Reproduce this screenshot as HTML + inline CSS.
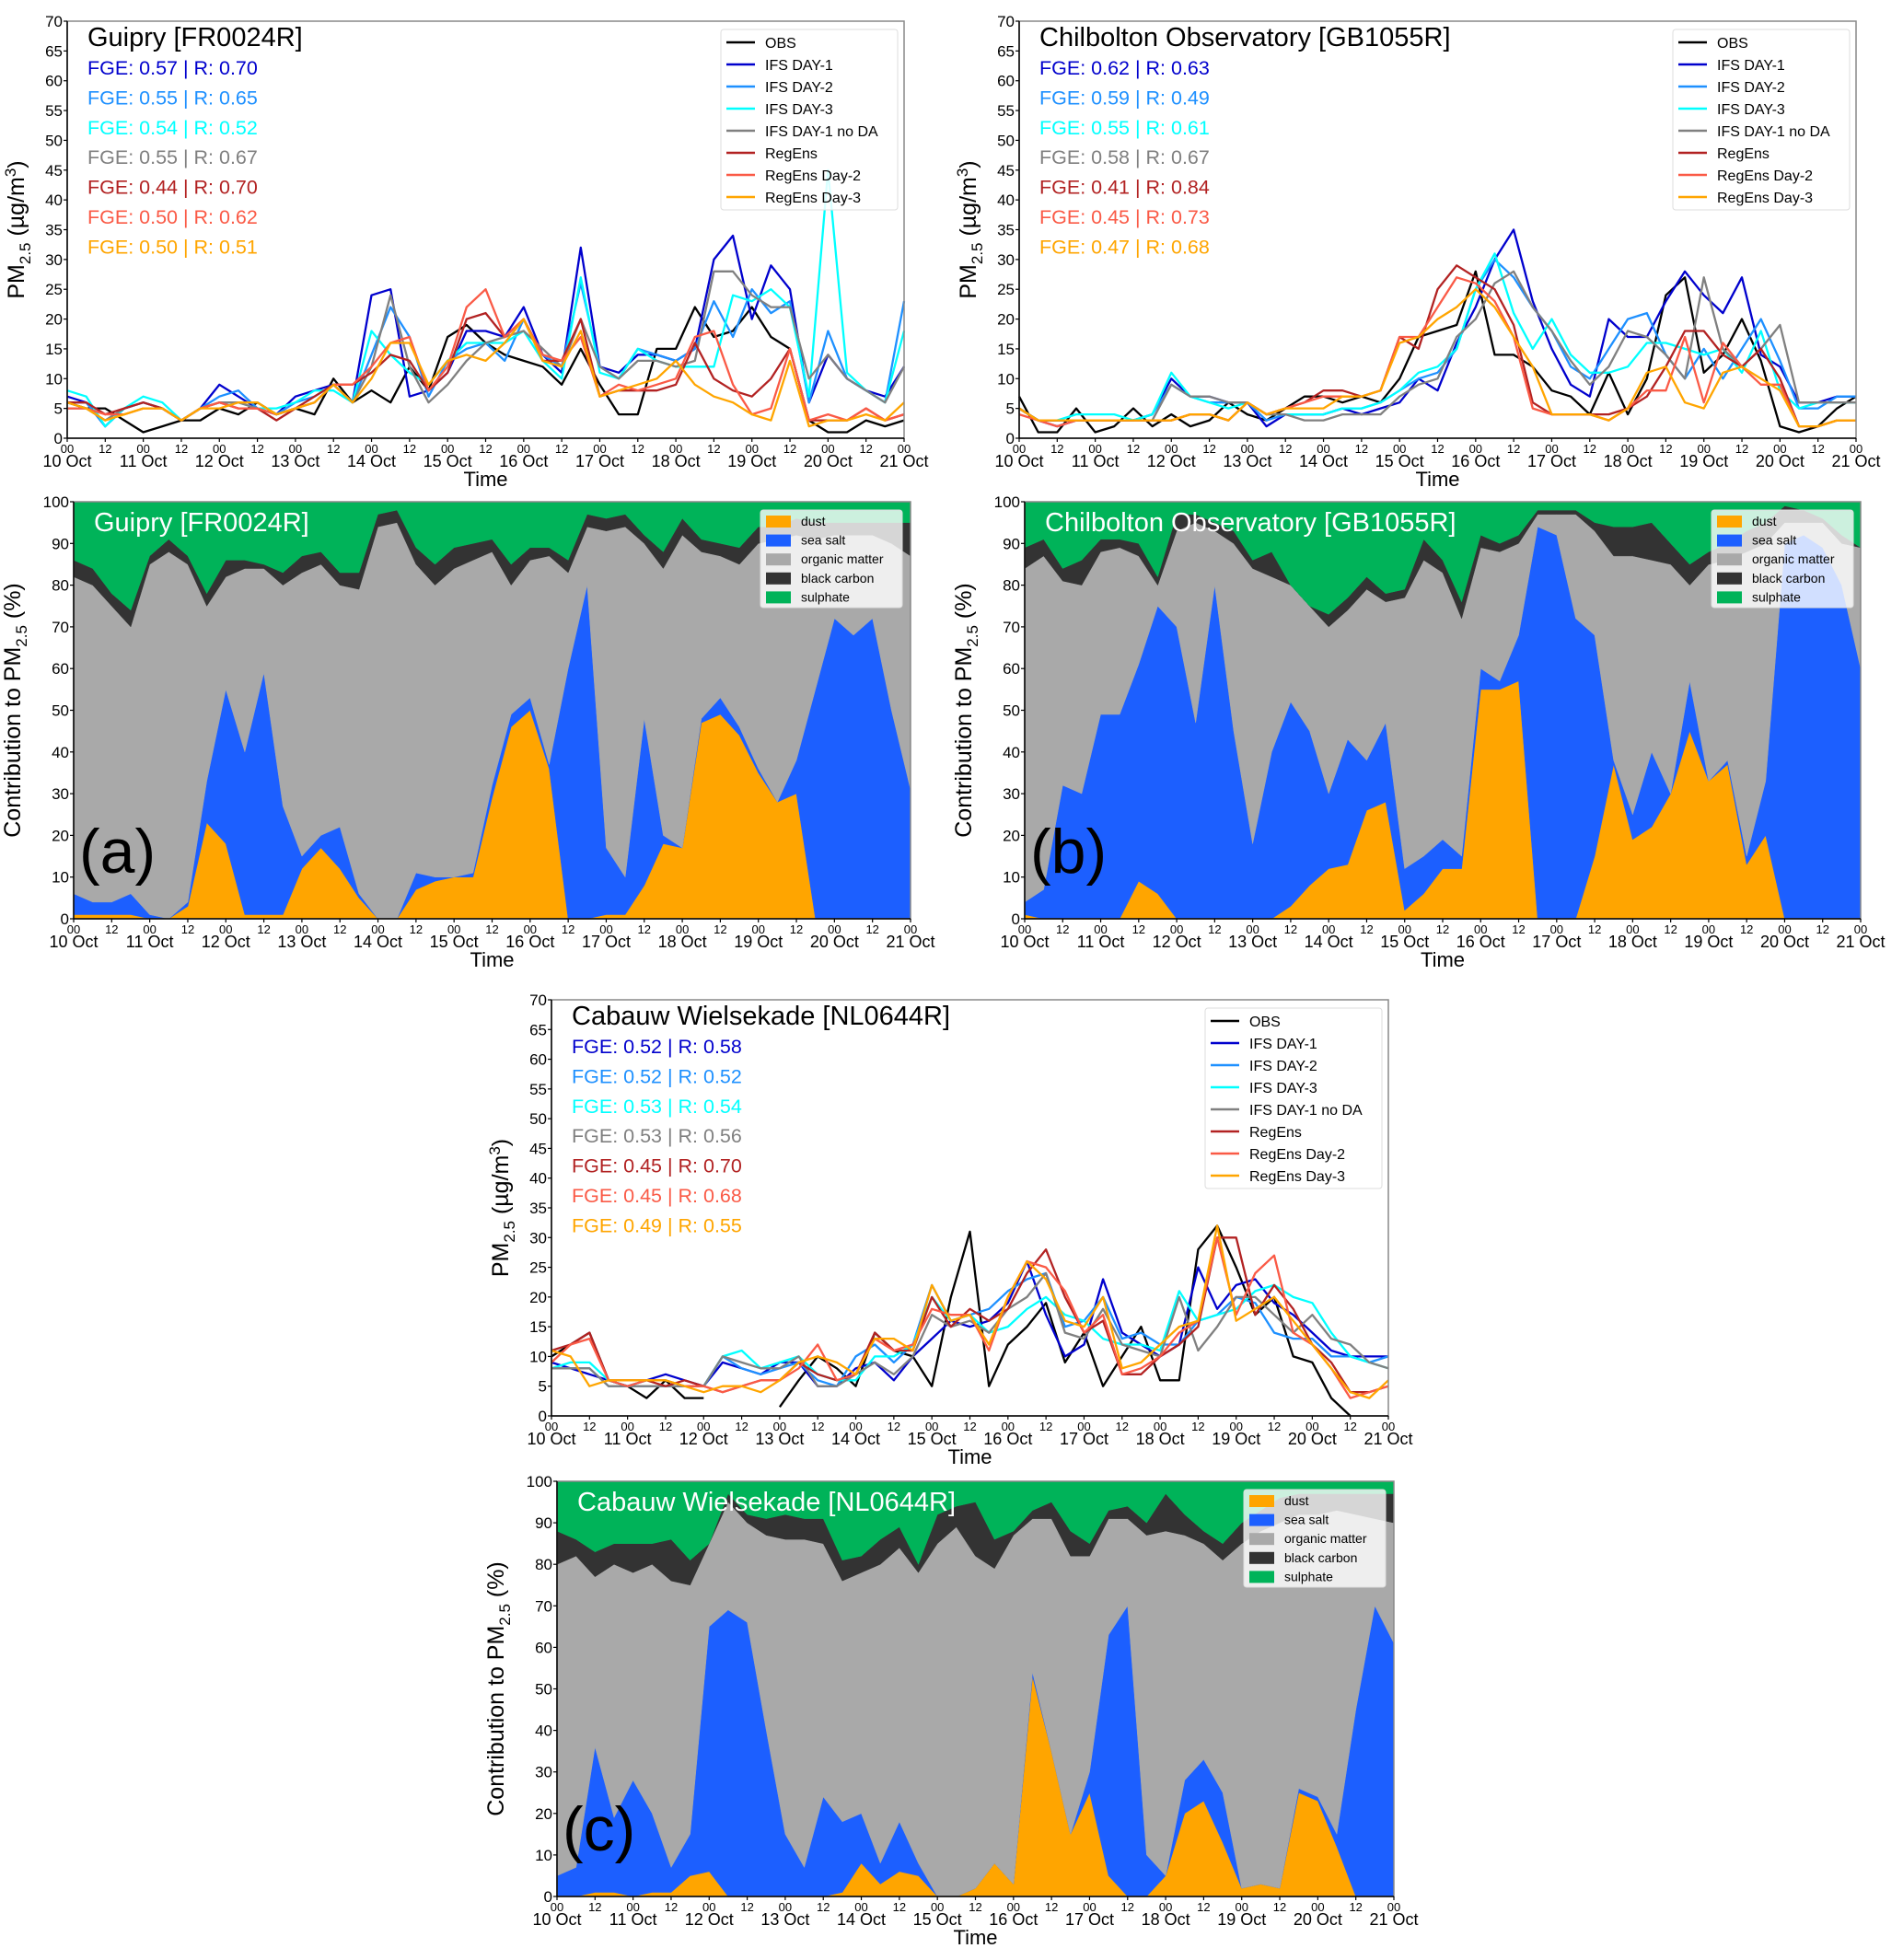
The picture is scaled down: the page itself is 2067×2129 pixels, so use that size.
<!DOCTYPE html>
<html><head><meta charset="utf-8">
<style>
html,body{margin:0;padding:0;background:#fff;}
svg{display:block;font-family:"Liberation Sans","DejaVu Sans",sans-serif;}
</style></head>
<body>
<svg id="fig" width="2067" height="2129" viewBox="0 0 2067 2129" xmlns="http://www.w3.org/2000/svg"></svg>
<script>
// ---------- time axis (6-hourly points, 10 Oct 00 .. 21 Oct 00) ----------
const nPts = 45;
const dayLabels = ["10 Oct","11 Oct","12 Oct","13 Oct","14 Oct","15 Oct","16 Oct","17 Oct","18 Oct","19 Oct","20 Oct","21 Oct"];
const lineYTicks = [0,5,10,15,20,25,30,35,40,45,50,55,60,65,70];
const barYTicks = [0,10,20,30,40,50,60,70,80,90,100];
const seriesNames = ["OBS","IFS DAY-1","IFS DAY-2","IFS DAY-3","IFS DAY-1 no DA","RegEns","RegEns Day-2","RegEns Day-3"];
const seriesColors = ["#000000","#0000cd","#1e90ff","#00ffff","#808080","#b22222","#fa5a46","#ffa500"];
const compNames = ["dust","sea salt","organic matter","black carbon","sulphate"];
const compColors = ["#ffa500","#1c5fff","#a9a9a9","#333333","#00b359"];

// ---------- panel (a) Guipry ----------
const obsA   = [6,5,5,3, 1,2,3,3, 5,4,6,4, 5,4,10,6, 8,6,12,8, 17,19,16,14, 13,12,9,15, 9,4,4,15, 15,22,17,18, 22,17,15,3, 1,1,3,2, 3];
const ifs1A  = [7,6,2,5, 6,5,3,5, 9,7,5,4, 7,8,9,6, 24,25,7,8, 11,18,18,17, 22,14,11,32, 12,11,14,14, 13,15,30,34, 20,29,25,6, 14,10,8,7, 12];
const ifs2A  = [6,6,2,5, 6,5,3,5, 7,8,5,4, 6,7,9,6, 14,22,17,7, 13,15,16,13, 20,14,12,26, 12,10,15,14, 13,15,23,17, 25,21,23,6, 18,10,8,6, 23];
const ifs3A  = [8,7,2,5, 7,6,3,5, 6,6,5,5, 6,8,8,6, 18,14,11,9, 13,16,16,16, 18,13,10,27, 11,10,15,13, 12,12,12,24, 23,25,22,7, 45,11,8,6, 18];
const nodaA  = [5,5,3,5, 6,5,3,5, 6,6,5,4, 5,6,9,6, 12,24,12,6, 9,13,16,17, 18,15,12,20, 12,10,13,13, 12,13,28,28, 24,22,22,10, 14,10,8,6, 12];
const regA   = [6,6,4,5, 6,5,3,5, 6,5,5,3, 5,7,9,9, 11,14,13,8, 11,20,21,17, 20,13,13,20, 7,8,8,8, 9,16,10,8, 7,10,15,3, 3,3,5,3, 4];
const reg2A  = [5,5,4,4, 5,5,3,5, 6,5,5,4, 5,6,9,9, 12,16,17,8, 12,22,25,17, 20,14,13,17, 7,9,8,9, 10,17,18,9, 4,5,15,3, 4,3,5,3, 4];
const reg3A  = [6,5,3,4, 5,5,3,5, 5,6,6,4, 5,6,9,6, 10,16,16,9, 13,14,13,16, 20,13,12,18, 7,8,9,10, 13,9,7,6, 4,3,13,2, 3,3,4,3, 6];
const statsA = ["FGE: 0.57 | R: 0.70","FGE: 0.55 | R: 0.65","FGE: 0.54 | R: 0.52","FGE: 0.55 | R: 0.67","FGE: 0.44 | R: 0.70","FGE: 0.50 | R: 0.62","FGE: 0.50 | R: 0.51"];
const dustTopA = [1,1,1,1, 0,0,3,23, 18,1,1,1, 12,17,12,5, 0,0,7,9, 10,10,29,46, 50,36,0,0, 1,1,8,18, 17,47,49,44, 35,28,30,0, 0,0,0,0, 0];
const saltTopA = [6,4,4,6, 1,0,4,33, 55,40,59,27, 15,20,22,6, 0,0,11,10, 10,11,32,49, 53,37,60,80, 17,10,48,20, 17,48,53,46, 36,28,38,55, 72,68,72,50, 31];
const orgTopA  = [82,80,75,70, 85,88,85,75, 82,84,84,80, 83,85,80,79, 94,95,85,80, 84,86,88,80, 86,87,83,94, 93,94,90,84, 92,88,87,85, 90,91,92,91, 92,92,92,90, 87];
const bcTopA   = [86,84,78,74, 87,91,87,78, 86,86,85,83, 87,88,83,83, 97,98,89,85, 89,90,91,85, 89,89,86,97, 96,97,92,88, 96,91,90,89, 94,94,96,95, 95,95,95,95, 95];

// ---------- panel (b) Chilbolton ----------
const obsB   = [7,1,1,5, 1,2,5,2, 4,2,3,6, 4,3,5,7, 7,6,7,6, 10,17,18,19, 28,14,14,12, 8,7,4,11, 4,10,24,27, 11,14,20,13, 2,1,2,5, 7];
const ifs1B  = [5,3,2,3, 3,3,3,4, 10,7,7,6, 6,2,4,4, 4,5,4,5, 6,10,8,16, 22,30,35,23, 15,9,7,20, 17,17,23,28, 24,21,27,14, 12,6,6,7, 7];
const ifs2B  = [5,3,3,3, 3,3,3,4, 9,7,6,6, 6,3,4,4, 4,5,5,6, 8,10,11,15, 25,30,27,22, 18,12,10,15, 20,21,14,10, 15,10,15,20, 13,5,5,7, 7];
const ifs3B  = [5,3,3,4, 4,4,3,4, 11,7,6,5, 6,4,4,4, 4,5,5,6, 8,11,12,15, 25,31,21,15, 20,14,11,11, 12,16,16,15, 14,15,11,18, 8,5,6,6, 6];
const nodaB  = [5,3,3,3, 3,3,3,3, 9,7,7,6, 6,4,4,3, 3,4,4,4, 7,9,10,17, 20,26,28,22, 18,13,9,12, 18,17,14,10, 27,15,12,15, 19,6,6,6, 6];
const regB   = [5,3,3,3, 3,3,3,3, 3,4,4,3, 6,4,5,6, 8,8,7,8, 17,15,25,29, 27,25,19,6, 4,4,4,4, 5,7,12,18, 18,14,12,15, 10,2,2,3, 3];
const reg2B  = [4,3,2,3, 3,3,3,3, 3,4,4,3, 6,4,5,6, 7,7,7,8, 17,17,22,27, 26,23,17,5, 4,4,4,3, 5,8,8,17, 6,16,12,9, 9,2,2,3, 3];
const reg3B  = [5,3,3,3, 3,3,3,3, 3,4,4,3, 6,4,5,5, 5,7,7,8, 16,17,20,22, 25,22,17,12, 4,4,4,3, 5,11,12,6, 5,11,12,10, 8,2,2,3, 3];
const statsB = ["FGE: 0.62 | R: 0.63","FGE: 0.59 | R: 0.49","FGE: 0.55 | R: 0.61","FGE: 0.58 | R: 0.67","FGE: 0.41 | R: 0.84","FGE: 0.45 | R: 0.73","FGE: 0.47 | R: 0.68"];
const dustTopB = [1,0,0,0, 0,0,9,6, 0,0,0,0, 0,0,3,8, 12,13,26,28, 2,6,12,12, 55,55,57,0, 0,0,15,37, 19,22,30,45, 33,37,13,20, 0,0,0,0, 0];
const saltTopB = [4,7,32,30, 49,49,61,75, 70,47,80,45, 18,40,52,45, 30,43,38,47, 12,15,19,15, 60,57,68,94, 92,72,68,38, 25,40,25,57, 33,38,15,33, 90,92,89,80, 60];
const orgTopB  = [84,87,81,80, 88,89,87,80, 93,95,93,90, 84,82,80,75, 70,74,79,76, 77,86,83,72, 89,88,90,97, 97,97,93,87, 87,86,85,80, 85,86,88,90, 95,95,95,90, 89];
const bcTopB   = [89,91,84,86, 91,91,90,82, 97,97,95,93, 86,88,78,73, 73,77,82,78, 79,91,86,76, 92,90,92,98, 98,98,95,94, 94,95,90,85, 88,90,93,95, 99,98,96,92, 89];

// ---------- panel (c) Cabauw ----------
const obsC   = [10,12,14,6, 5,3,6,3, 3,null,3,null, 1.5,6,10,8, 5,14,11,10, 5,20,31,5, 12,15,19,9, 14,5,10,15, 6,6,28,32, 25,17,20,10, 9,3,0,null, 2];
const ifs1C  = [9,8,7,6, 5,6,7,6, 5,9,8,7, 9,9,5,5, 8,9,6,10, 13,16,15,16, 19,26,17,10, 12,23,14,12, 10,12,25,18, 22,23,19,17, 14,11,10,10, 10];
const ifs2C  = [8,8,8,5, 5,5,5,5, 5,10,8,7, 8,9,6,5, 10,12,9,12, 22,16,17,18, 21,23,24,15, 16,20,13,14, 12,12,16,17, 20,19,14,13, 13,10,10,9, 10];
const ifs3C  = [8,9,9,6, 5,6,6,5, 5,10,11,8, 9,10,7,6, 6,10,10,12, 20,16,17,14, 15,18,20,17, 16,13,12,12, 11,21,16,17, 18,21,22,20, 19,14,10,9, 8];
const nodaC  = [8,8,8,5, 5,5,5,5, 5,10,9,8, 8,10,5,5, 7,9,7,10, 17,15,16,14, 18,20,24,14, 13,18,12,11, 10,20,11,15, 20,20,17,14, 17,13,12,9, 8];
const regC   = [11,12,14,6, 6,6,5,6, 5,4,5,6, 6,9,7,6, 7,14,11,11, 20,15,18,16, 18,24,28,20, 14,16,7,7, 10,12,15,30, 30,17,22,18, 12,9,4,4, 5];
const reg2C  = [9,12,13,6, 5,6,6,5, 5,4,5,6, 6,8,12,6, 7,13,11,12, 18,17,17,11, 20,26,25,21, 14,17,7,8, 10,14,16,30, 17,24,27,14, 12,8,3,4, 5];
const reg3C  = [11,10,5,6, 6,6,6,5, 4,5,5,4, 6,9,10,9, 7,13,13,11, 22,16,17,12, 20,26,23,16, 15,20,8,9, 12,15,16,32, 16,18,20,16, 12,8,4,3, 6];
const statsC = ["FGE: 0.52 | R: 0.58","FGE: 0.52 | R: 0.52","FGE: 0.53 | R: 0.54","FGE: 0.53 | R: 0.56","FGE: 0.45 | R: 0.70","FGE: 0.45 | R: 0.68","FGE: 0.49 | R: 0.55"];
const dustTopC = [0,0,1,1, 0,1,1,5, 6,0,0,0, 0,0,0,1, 8,3,6,5, 0,0,2,8, 3,53,35,15, 25,5,0,0, 5,20,23,13, 2,3,2,25, 23,12,0,0, 0];
const saltTopC = [5,7,36,19, 28,20,7,15, 65,69,66,40, 15,7,24,18, 20,8,18,8, 0,0,2,8, 3,54,35,15, 30,63,70,10, 2,28,33,25, 2,3,2,26, 24,15,45,70, 61];
const orgTopC  = [80,82,77,80, 78,80,76,75, 85,95,90,87, 86,86,85,76, 78,80,84,78, 85,89,82,79, 87,91,91,82, 82,91,91,87, 88,87,85,81, 85,88,90,92, 92,93,92,91, 90];
const bcTopC   = [88,86,83,85, 85,85,86,81, 84,97,92,91, 92,91,91,81, 82,86,89,80, 92,94,95,86, 88,93,95,88, 85,93,94,90, 97,92,88,85, 90,93,96,97, 97,97,97,97, 97];

// ---------- drawing ----------
const NS = "http://www.w3.org/2000/svg";
const svg = document.getElementById("fig");
function mk(tag, attrs, parent){
  const e = document.createElementNS(NS, tag);
  for (const k in attrs) e.setAttribute(k, attrs[k]);
  (parent||svg).appendChild(e);
  return e;
}
function txt(s, attrs, parent){ const e = mk("text", attrs, parent); e.textContent = s; return e; }

function makeX(b){ return i => b.x0 + (b.x1-b.x0) * i/(nPts-1); }
function makeY(b, max){ return v => b.y1 - (b.y1-b.y0) * v/max; }

function xAxis(g, b){
  const xs = makeX(b);
  for (let h = 0; h <= 264; h += 12){
    const x = xs(h/6);
    mk("line",{x1:x,y1:b.y1,x2:x,y2:b.y1+4,stroke:"#000","stroke-width":1.2},g);
    const t = txt(h%24===0?"00":"12",{x:x,y:b.y1+16,"font-size":13,"text-anchor":"middle",fill:"#000"},g);
    
    
    if (h%24===0){
      const d = txt(dayLabels[h/24],{x:x,y:b.y1+31,"font-size":18,"text-anchor":"middle",fill:"#000"},g);
      
      
    }
  }
  const tl = txt("Time",{x:(b.x0+b.x1)/2,y:b.y1+52,"font-size":22,"text-anchor":"middle",fill:"#000"},g);
  
  
}
function yAxis(g, b, ticks, max){
  const ys = makeY(b, max);
  ticks.forEach(v=>{
    const y = ys(v);
    mk("line",{x1:b.x0-4,y1:y,x2:b.x0,y2:y,stroke:"#000","stroke-width":1.2},g);
    const t = txt(String(v),{x:b.x0-5,y:y+6,"font-size":17,"text-anchor":"end",fill:"#000"},g);
    
    
  });
}

function linePanel(b, title, series, stats){
  const g = mk("g",{});
  
  
  const xs = makeX(b), ys = makeY(b, 70);
  series.forEach((arr, si)=>{
    let d = "", pen = false;
    arr.forEach((v,i)=>{
      if (v===null){ pen=false; return; }
      d += (pen?"L":"M") + xs(i).toFixed(1) + "," + ys(v).toFixed(1);
      pen = true;
    });
    const p = mk("path",{d:d,fill:"none",stroke:seriesColors[si],"stroke-width":2.3,"stroke-linejoin":"round"},g);
    
    
  });
  mk("rect",{x:b.x0,y:b.y0,width:b.x1-b.x0,height:b.y1-b.y0,fill:"none",stroke:"#888","stroke-width":1.5},g);
  mk("line",{x1:b.x0,y1:b.y0,x2:b.x0,y2:b.y1,stroke:"#000","stroke-width":1.5},g);
  mk("line",{x1:b.x0,y1:b.y1,x2:b.x1,y2:b.y1,stroke:"#000","stroke-width":1.5},g);
  xAxis(g,b); yAxis(g,b,lineYTicks,70);
  const yl = mk("text",{x:0,y:0,"font-size":25,"text-anchor":"middle",fill:"#000",transform:`translate(${b.x0-47},${(b.y0+b.y1)/2}) rotate(-90)`},g);
  yl.innerHTML = 'PM<tspan font-size="17" dy="7">2.5</tspan><tspan dy="-7"> (µg/m</tspan><tspan font-size="17" dy="-9">3</tspan><tspan dy="9">)</tspan>';
  
  
  const tt = txt(title,{x:b.x0+22,y:b.y0+27,"font-size":29,fill:"#000"},g);
  
  
  stats.forEach((s,i)=>{
    const t = txt(s,{x:b.x0+22,y:b.y0+58+i*32.4,"font-size":21.5,fill:seriesColors[i+1]},g);
    
    
  });
  const lg = mk("g",{},g);
  
  
  const lx = b.x0+710, ly = b.y0+9;
  mk("rect",{x:lx,y:ly,width:192,height:196,rx:3,fill:"#fff","fill-opacity":0.85,stroke:"#ddd","stroke-width":1},lg);
  seriesNames.forEach((n,i)=>{
    const y = ly+14+i*24;
    mk("line",{x1:lx+6,y1:y,x2:lx+37,y2:y,stroke:seriesColors[i],"stroke-width":2.5},lg);
    const t = txt(n,{x:lx+48,y:y+6,"font-size":16,fill:"#000"},lg);
    
    
  });
}

function barPanel(b, title, tops, letter){
  const g = mk("g",{});
  
  
  const xs = makeX(b), ys = makeY(b, 100);
  const bounds = [];
  let prev = new Array(nPts).fill(0);
  bounds.push(prev);
  tops.forEach(arr=>{
    const cur = arr.map((v,i)=>Math.max(v, prev[i]));
    bounds.push(cur); prev = cur;
  });
  bounds.push(new Array(nPts).fill(100));
  for (let k=0;k<5;k++){
    const lo = bounds[k], hi = bounds[k+1];
    let d = "M"+xs(0)+","+ys(lo[0]);
    for (let i=0;i<nPts;i++) d += "L"+xs(i).toFixed(1)+","+ys(hi[i]).toFixed(1);
    for (let i=nPts-1;i>=0;i--) d += "L"+xs(i).toFixed(1)+","+ys(lo[i]).toFixed(1);
    d += "Z";
    const p = mk("path",{d:d,fill:compColors[k],stroke:compColors[k],"stroke-width":0.5},g);
    
    
  }
  mk("rect",{x:b.x0,y:b.y0,width:b.x1-b.x0,height:b.y1-b.y0,fill:"none",stroke:"#888","stroke-width":1.5},g);
  mk("line",{x1:b.x0,y1:b.y0,x2:b.x0,y2:b.y1,stroke:"#000","stroke-width":1.5},g);
  mk("line",{x1:b.x0,y1:b.y1,x2:b.x1,y2:b.y1,stroke:"#000","stroke-width":1.5},g);
  xAxis(g,b); yAxis(g,b,barYTicks,100);
  const yl = mk("text",{x:0,y:0,"font-size":25,"text-anchor":"middle",fill:"#000",transform:`translate(${b.x0-58},${(b.y0+b.y1)/2}) rotate(-90)`},g);
  yl.innerHTML = 'Contribution to PM<tspan font-size="17" dy="7">2.5</tspan><tspan dy="-7"> (%)</tspan>';
  
  
  const tt = txt(title,{x:b.x0+22,y:b.y0+32,"font-size":29,fill:"#fff"},g);
  
  
  const lt = txt(letter,{x:b.x0+6,y:b.y1-50,"font-size":68,fill:"#000"},g);
  
  
  const lg = mk("g",{},g);
  
  
  const lx = b.x0+746, ly = b.y0+9;
  mk("rect",{x:lx,y:ly,width:154,height:106,rx:3,fill:"#fff","fill-opacity":0.8,stroke:"#ddd","stroke-width":1},lg);
  compNames.forEach((n,i)=>{
    const y = ly+12+i*20.6;
    mk("rect",{x:lx+6,y:y-6,width:27,height:13,fill:compColors[i]},lg);
    const t = txt(n,{x:lx+44,y:y+5,"font-size":14,fill:"#000"},lg);
    
    
  });
}

linePanel({x0:73,x1:982,y0:23,y1:476},"Guipry [FR0024R]",[obsA,ifs1A,ifs2A,ifs3A,nodaA,regA,reg2A,reg3A],statsA);
linePanel({x0:1107,x1:2016,y0:23,y1:476},"Chilbolton Observatory [GB1055R]",[obsB,ifs1B,ifs2B,ifs3B,nodaB,regB,reg2B,reg3B],statsB);
linePanel({x0:599,x1:1508,y0:1086,y1:1538},"Cabauw Wielsekade [NL0644R]",[obsC,ifs1C,ifs2C,ifs3C,nodaC,regC,reg2C,reg3C],statsC);
barPanel({x0:80,x1:989,y0:545,y1:998},"Guipry [FR0024R]",[dustTopA,saltTopA,orgTopA,bcTopA],"(a)");
barPanel({x0:1113,x1:2021,y0:545,y1:998},"Chilbolton Observatory [GB1055R]",[dustTopB,saltTopB,orgTopB,bcTopB],"(b)");
barPanel({x0:605,x1:1514,y0:1609,y1:2060},"Cabauw Wielsekade [NL0644R]",[dustTopC,saltTopC,orgTopC,bcTopC],"(c)");
</script>
</body></html>
